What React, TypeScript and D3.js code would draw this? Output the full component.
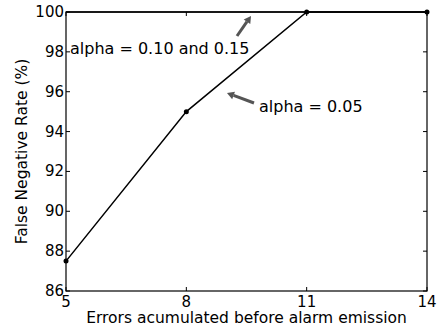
import React from "react";
import * as d3 from "d3";

const xValues = [5, 8, 11, 14];
const seriesA005 = [87.5, 95, 100, 100];
const seriesA010 = [100, 100, 100, 100];
const xTicks = [5, 8, 11, 14];
const yTicks = [86, 88, 90, 92, 94, 96, 98, 100];

const W = 440, H = 331;
const m = { left: 66, right: 13, top: 12, bottom: 40 };

export default function App() {
  const x = d3.scaleLinear().domain([5, 14]).range([m.left, W - m.right]);
  const y = d3.scaleLinear().domain([86, 100]).range([H - m.bottom, m.top]);
  const line = d3.line<number>().x((_, i) => x(xValues[i])).y((d) => y(d));
  const font = "DejaVu Sans, sans-serif";
  const x0 = x(5), x1 = x(14), y0 = y(86), y1 = y(100);
  const arrowColor = "#555555";
  const arrow = (tx: number, ty: number, hx: number, hy: number, key: string) => {
    const ang = Math.atan2(hy - ty, hx - tx);
    const L = 7, Wd = 4;
    const bx = hx - L * Math.cos(ang), by = hy - L * Math.sin(ang);
    const px = -Math.sin(ang) * Wd, py = Math.cos(ang) * Wd;
    return (
      <g key={key}>
        <line x1={tx} y1={ty} x2={bx} y2={by} stroke={arrowColor} strokeWidth={3} />
        <polygon points={`${hx},${hy} ${bx + px},${by + py} ${bx - px},${by - py}`} fill={arrowColor} />
      </g>
    );
  };
  return (
    <svg width={W} height={H} style={{ position: "absolute", left: 0, top: 0 }} fontFamily={font}>
      <rect width={W} height={H} fill="white" />
      <path d={line(seriesA010) || ""} fill="none" stroke="black" strokeWidth={1.5} />
      <path d={line(seriesA005) || ""} fill="none" stroke="black" strokeWidth={1.5} />
      {seriesA005.map((v, i) => (
        <circle key={"a" + i} cx={x(xValues[i])} cy={y(v)} r={2.5} fill="black" />
      ))}
      <rect x={x0} y={y1} width={x1 - x0} height={y0 - y1} fill="none" stroke="black" strokeWidth={1.2} />
      {xTicks.map((t) => (
        <g key={"xt" + t}>
          <line x1={x(t)} x2={x(t)} y1={y0} y2={y0 - 4} stroke="black" />
          <line x1={x(t)} x2={x(t)} y1={y1} y2={y1 + 4} stroke="black" />
          <text x={x(t)} y={y0 + 16} fontSize={15} textAnchor="middle">{t}</text>
        </g>
      ))}
      {yTicks.map((t) => (
        <g key={"yt" + t}>
          <line x1={x0} x2={x0 + 4} y1={y(t)} y2={y(t)} stroke="black" />
          <line x1={x1} x2={x1 - 4} y1={y(t)} y2={y(t)} stroke="black" />
          <text x={x0 - 2} y={y(t) + 5} fontSize={15} textAnchor="end">{t}</text>
        </g>
      ))}
      <text x={(x0 + x1) / 2} y={323} fontSize={15.5} textAnchor="middle">Errors acumulated before alarm emission</text>
      <text transform={`translate(27,${(y0 + y1) / 2}) rotate(-90)`} fontSize={15.5} textAnchor="middle">False Negative Rate (%)</text>
      <text x={70} y={54} fontSize={16}>alpha = 0.10 and 0.15</text>
      <text x={259} y={112} fontSize={16}>alpha = 0.05</text>
      {arrow(237, 36, 251, 16, "ar1")}
      {arrow(254, 103, 227, 93, "ar2")}
    </svg>
  );
}
